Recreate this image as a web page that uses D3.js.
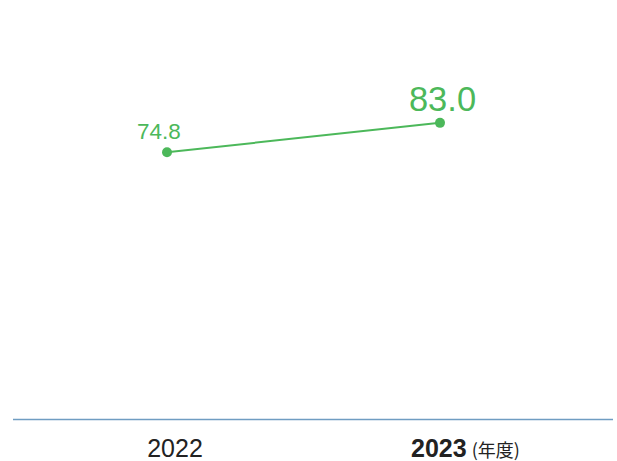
<!DOCTYPE html>
<html><head><meta charset="utf-8">
<script src="https://cdn.jsdelivr.net/npm/d3@7"></script>
<style>body{margin:0;background:#fff;} svg{display:block;}</style>
</head><body>
<svg id="c" width="617" height="461"></svg>
<script>
const categories = ["2022", "2023"];
const values = [74.8, 83.0];
const valueLabels = ["74.8", "83.0"];
const unitLabel = "(年度)";

const svg = d3.select("#c");
const green = "#4cb85a";
const font = "'Liberation Sans', Arial, Helvetica, sans-serif";

const x = d3.scalePoint().domain(categories).range([167, 440]);
const y = d3.scaleLinear().domain([0, 100]).range([420, 62]);

// baseline axis
svg.append("line").attr("x1", 13).attr("x2", 613)
  .attr("y1", y(0) - 0.5).attr("y2", y(0) - 0.5)
  .attr("stroke", "#6f9dc2").attr("stroke-width", 1.5);

const data = categories.map((c, i) => ({c, v: values[i], l: valueLabels[i], i}));

svg.append("path").datum(data)
  .attr("d", d3.line().x(d => x(d.c)).y(d => y(d.v)))
  .attr("fill", "none").attr("stroke", green).attr("stroke-width", 2);

svg.selectAll("circle.pt").data(data).join("circle")
  .attr("class", "pt").attr("cx", d => x(d.c)).attr("cy", d => y(d.v))
  .attr("r", 5).attr("fill", green);

svg.selectAll("text.val").data(data).join("text")
  .attr("class", "val")
  .attr("x", d => d.i === 0 ? x(d.c) - 8 : x(d.c) + 2.5)
  .attr("y", d => d.i === 0 ? y(d.v) - 13 : y(d.v) - 12)
  .attr("text-anchor", "middle")
  .attr("font-family", font)
  .attr("font-size", d => d.i === 0 ? 22.5 : 34.5)
  .attr("fill", green)
  .text(d => d.l);

// x labels
svg.append("text").attr("x", x(categories[0]) + 8).attr("y", 457)
  .attr("text-anchor", "middle").attr("font-family", font)
  .attr("font-size", 25).attr("fill", "#222").text(categories[0]);

const t2 = svg.append("text").attr("x", x(categories[1]) - 29).attr("y", 457)
  .attr("font-family", font).attr("fill", "#222");
t2.append("tspan").attr("font-size", 25).attr("font-weight", "bold").text(categories[1]);
t2.append("tspan").attr("font-size", 18).attr("dx", 5)
  .attr("font-family", "'Noto Sans CJK JP', sans-serif").text(unitLabel);
</script>
</body></html>
